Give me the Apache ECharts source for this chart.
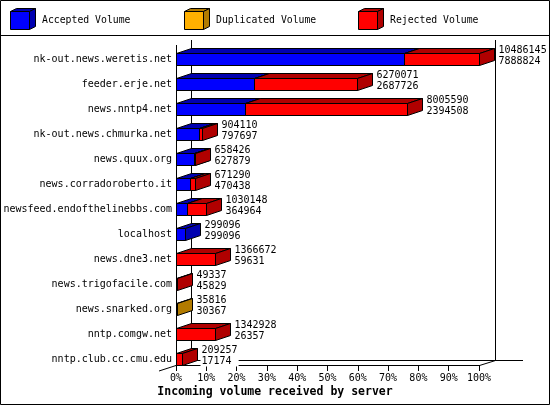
<!DOCTYPE html>
<html>
<head>
<meta charset="utf-8">
<script src="https://cdn.jsdelivr.net/npm/echarts@6/dist/echarts.min.js"></script>
<style>
html,body{margin:0;padding:0;background:#fff;}
#chart{width:550px;height:405px;}
</style>
</head>
<body>
<div id="chart"></div>
<script>
// ---- data ----
const categories = [
  'nk-out.news.weretis.net', 'feeder.erje.net', 'news.nntp4.net',
  'nk-out.news.chmurka.net', 'news.quux.org', 'news.corradoroberto.it',
  'newsfeed.endofthelinebbs.com', 'localhost', 'news.dne3.net',
  'news.trigofacile.com', 'news.snarked.org', 'nntp.comgw.net',
  'nntp.club.cc.cmu.edu'
];
const totalLabels = ['10486145','6270071','8005590','904110','658426','671290','1030148','299096','1366672','49337','35816','1342928','209257'];
const secondLabels = ['7888824','2687726','2394508','797697','627879','470438','364964','299096','59631','45829','30367','26357','17174'];
const accepted   = [7888824, 2687726, 2394508, 797697, 627879, 470438, 364964, 299096, 0, 0, 0, 0, 0];
const duplicated = [0, 0, 0, 0, 0, 0, 0, 0, 0, 0, 35816, 0, 0];
const rejected   = [2597321, 3582345, 5611082, 106413, 30547, 200852, 665184, 0, 1366672, 49337, 0, 1342928, 209257];
const xTicks = { min: 0, max: 100, interval: 10 };
const legendNames = ['Accepted Volume', 'Duplicated Volume', 'Rejected Volume'];
const axisTitle = 'Incoming volume received by server';

// ---- styles ----
const FONT = '"DejaVu Sans Mono", "Liberation Mono", monospace';
const COLORS = [['#0000ff', '#0000b0'], ['#ffb000', '#b27b00'], ['#ff0000', '#b00000']];
const DX = 15, DY = -5, HALF = 6;

const totals = categories.map((c, i) => accepted[i] + duplicated[i] + rejected[i]);
const maxTotal = Math.max.apply(null, totals);
const pct = v => v / maxTotal * 100;
const seriesData = categories.map((c, i) => [i, pct(accepted[i]), pct(duplicated[i]), pct(rejected[i])]);

const px = v => Math.round(v) + 0.5;

function box(xa, xb, yc, colors) {
  const top = yc - HALF, bot = yc + HALF;
  const lineStyle = { stroke: '#000', lineWidth: 1 };
  return [
    { type: 'rect', shape: { x: xa, y: top, width: Math.max(xb - xa, 0), height: bot - top },
      style: Object.assign({ fill: colors[0] }, lineStyle) },
    { type: 'polygon', shape: { points: [[xa, top], [xb, top], [xb + DX, top + DY], [xa + DX, top + DY]] },
      style: Object.assign({ fill: colors[1] }, lineStyle) },
    { type: 'polygon', shape: { points: [[xb, top], [xb + DX, top + DY], [xb + DX, bot + DY], [xb, bot]] },
      style: Object.assign({ fill: colors[1] }, lineStyle) }
  ];
}

function renderItem(params, api) {
  const i = api.value(0);
  const base = api.coord([0, i]);
  const yc = Math.round(base[1] - 0.5) + 0.5;
  let acc = 0;
  let children = [];
  let xEnd = px(base[0]);
  for (let k = 0; k < 3; k++) {
    const v = api.value(k + 1);
    if (v > 0) {
      const xa = px(api.coord([acc, i])[0]);
      acc += v;
      const xb = px(api.coord([acc, i])[0]);
      children = children.concat(box(xa, xb, yc, COLORS[k]));
      xEnd = xb;
    }
  }
  children.push({
    type: 'text',
    z2: 50,
    style: {
      x: xEnd + DX + 3, y: yc - 4,
      text: totalLabels[i] + '\n' + secondLabels[i],
      fill: '#000', font: '10px ' + FONT,
      align: 'left', verticalAlign: 'middle', lineHeight: 11,
      backgroundColor: '#fff', padding: [0, 1, 0, 1]
    }
  });
  return { type: 'group', children: children };
}

// ---- decoration (frame, legend, title) ----
const L = (x1, y1, x2, y2) => ({ type: 'line', z: 0, shape: { x1, y1, x2, y2 }, style: { stroke: '#000', lineWidth: 1 } });
const graphics = [
  { type: 'rect', z: 0, shape: { x: 0.5, y: 0.5, width: 549, height: 404 }, style: { fill: 'none', stroke: '#000', lineWidth: 1 } },
  L(0, 35.5, 550, 35.5),
  L(176.5, 45, 176.5, 365),
  L(191.5, 40, 191.5, 360.5),
  L(495.5, 40, 495.5, 360.5),
  L(191.5, 360.5, 523, 360.5),
  L(159, 371, 191.5, 360.5),
  L(479.5, 365.5, 495.5, 360.5),
  { type: 'text', z: 0, style: { x: 275, y: 392.5, text: axisTitle, fill: '#000', font: 'bold 11.5px ' + FONT, align: 'center', verticalAlign: 'middle' } }
];
const legendX = [10, 183.5, 357.5];
legendNames.forEach((name, k) => {
  const x = Math.round(legendX[k]) + 0.5, y = 11.5, w = 19, h = 18, dx = 6, dy = -3;
  const ls = { stroke: '#000', lineWidth: 1 };
  graphics.push({ type: 'polygon', z: 1, shape: { points: [[x, y], [x + w, y], [x + w + dx, y + dy], [x + dx, y + dy]] }, style: Object.assign({ fill: COLORS[k][1] }, ls) });
  graphics.push({ type: 'polygon', z: 1, shape: { points: [[x + w, y], [x + w + dx, y + dy], [x + w + dx, y + h + dy], [x + w, y + h]] }, style: Object.assign({ fill: COLORS[k][1] }, ls) });
  graphics.push({ type: 'rect', z: 1, shape: { x: x, y: y, width: w, height: h }, style: Object.assign({ fill: COLORS[k][0] }, ls) });
  graphics.push({ type: 'text', z: 1, style: { x: x + 31.5, y: 20, text: name, fill: '#000', font: '9.8px ' + FONT, align: 'left', verticalAlign: 'middle' } });
});

const chart = echarts.init(document.getElementById('chart'), null, { renderer: 'canvas' });
chart.setOption({
  animation: false,
  backgroundColor: '#fff',
  grid: { left: 176, right: 71, top: 47, bottom: 33, containLabel: false },
  xAxis: {
    type: 'value', min: xTicks.min, max: xTicks.max, interval: xTicks.interval,
    offset: -7,
    axisLine: { show: true, lineStyle: { color: '#000', width: 1 } },
    axisTick: { show: true, length: 6, lineStyle: { color: '#000' } },
    axisLabel: { formatter: '{value}%', color: '#000', fontFamily: FONT, fontSize: 10, margin: 8 },
    splitLine: { show: false }
  },
  yAxis: {
    type: 'category', inverse: true, data: categories,
    axisLine: { show: false }, axisTick: { show: false },
    axisLabel: { color: '#000', fontFamily: FONT, fontSize: 10, margin: 4 },
    splitLine: { show: false }
  },
  graphic: { elements: graphics },
  series: [{
    type: 'custom', z: 10, renderItem: renderItem, data: seriesData,
    encode: { x: [1, 2, 3], y: 0 }, clip: false, silent: true
  }]
});
</script>
</body>
</html>
